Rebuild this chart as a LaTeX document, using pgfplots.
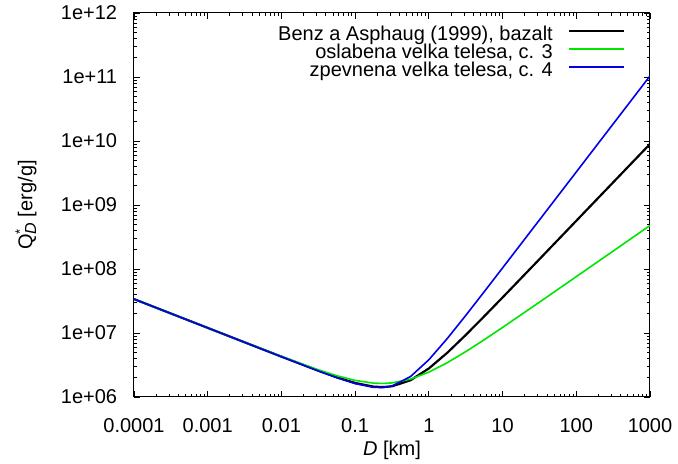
\documentclass[border=0pt]{standalone}
\usepackage{fontspec}
\setmainfont{Liberation Sans}
\usepackage{pgfplots}
\pgfplotsset{compat=1.18}
\definecolor{gpgreen}{RGB}{0,230,0}
\definecolor{gpblue}{RGB}{0,0,235}
\begin{document}
\fontsize{20bp}{24bp}\selectfont
\begin{tikzpicture}
\useasboundingbox (-134bp,-67bp) rectangle (544bp,397bp);
\begin{axis}[
  at={(0,0)}, anchor=south west,
  scale only axis, width=516bp, height=384bp,
  xmode=log, ymode=log,
  xmin=1e-4, xmax=1e3, ymin=1e6, ymax=1e12,
  /pgf/number format/assume math mode=true,
  xtick={1e-4,1e-3,1e-2,1e-1,1,10,100,1000},
  xticklabels={0.0001,0.001,0.01,0.1,1,10,100,1000},
  ytick={1e6,1e7,1e8,1e9,1e10,1e11,1e12},
  yticklabels={1e+06,1e+07,1e+08,1e+09,1e+10,1e+11,1e+12},
  tick align=inside,
  axis line style={line width=1bp},
  every tick/.style={line width=0.8bp, black},
  major tick length=6bp, minor tick length=3bp,
  xticklabel style={yshift=-15bp},
  yticklabel style={xshift=-10bp},
  xlabel={\textit{D} [km]},
  ylabel={Q\rlap{\raisebox{0.75ex}{\fontsize{13bp}{13bp}\selectfont *}}\raisebox{-0.35ex}{\fontsize{16bp}{16bp}\selectfont\itshape D} [erg/g]},
  xlabel style={at={(axis description cs:0.5,0)}, anchor=center, yshift=-53bp},
  ylabel style={at={(axis description cs:-0.2093,0.5)}, anchor=center},
  legend plot pos=right,
  legend cell align=right,
  legend image code/.code={\draw[#1] (0bp,5bp) -- (55bp,5bp);},
  legend style={at={(axis description cs:0.9516,0.961)}, anchor=north east,
    draw=none, fill=none, inner sep=0pt, outer sep=0pt, row sep=1.5bp, column sep=15bp,
    nodes={inner sep=0pt, outer sep=0pt, text height=13bp, text depth=3.5bp}},
]
\addplot[black, line width=2.2bp] coordinates {
(1e-4,3.388e7) (3.162e-4,2.018e7) (1e-3,1.202e7) (3.162e-3,7.161e6) (1e-2,4.276e6) (3.162e-2,2.576e6) (5.623e-2,2.032e6) (0.1,1.656e6) (0.1778,1.452e6) (0.2371,1.428e6) (0.3162,1.469e6) (0.5623,1.824e6) (1,2.793e6) (1.778,4.909e6) (3.162,9.290e6) (5.623,1.816e7) (10,3.589e7) (31.62,1.422e8) (100,5.662e8) (316.2,2.254e9) (1000,8.974e9)
};
\addlegendentry{Benz a Asphaug (1999), bazalt}
\addplot[gpgreen, line width=1.6bp] coordinates {
(1e-4,3.388e7) (3.162e-4,2.018e7) (1e-3,1.203e7) (3.162e-3,7.180e6) (1e-2,4.314e6) (3.162e-2,2.662e6) (5.623e-2,2.152e6) (0.1,1.816e6) (0.1778,1.647e6) (0.2371,1.629e6) (0.3162,1.660e6) (0.5623,1.898e6) (1,2.443e6) (1.778,3.435e6) (3.162,5.107e6) (5.623,7.833e6) (10,1.221e7) (31.62,3.031e7) (100,7.593e7) (316.2,1.905e8) (1000,4.786e8)
};
\addlegendentry{oslabena velka telesa, c. 3}
\addplot[gpblue, line width=1.6bp] coordinates {
(1e-4,3.388e7) (3.162e-4,2.018e7) (1e-3,1.202e7) (3.162e-3,7.161e6) (1e-2,4.266e6) (3.162e-2,2.559e6) (5.623e-2,2.004e6) (0.1,1.618e6) (0.1778,1.414e6) (0.2371,1.406e6) (0.3162,1.485e6) (0.5623,2.080e6) (1,3.819e6) (1.778,8.195e6) (3.162,1.877e7) (5.623,4.399e7) (10,1.039e8) (31.62,5.834e8) (100,3.281e9) (316.2,1.845e10) (1000,1.038e11)
};
\addlegendentry{zpevnena velka telesa, c. 4}
\end{axis}
\end{tikzpicture}
\end{document}
